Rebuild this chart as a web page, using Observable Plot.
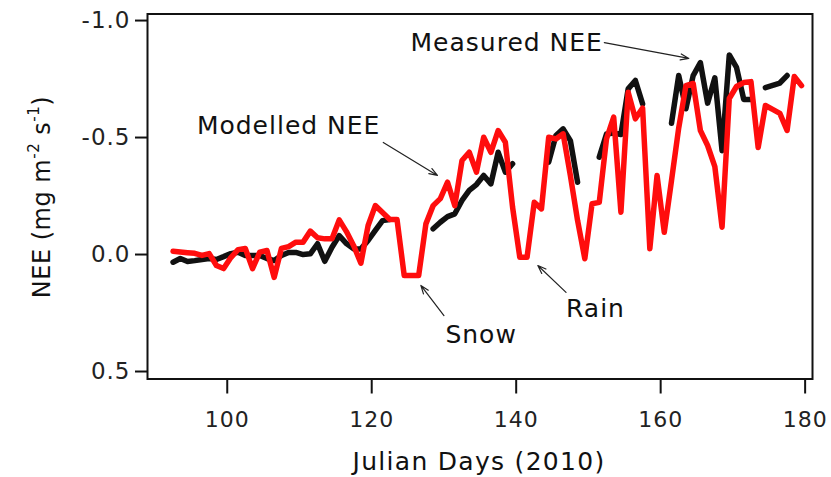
<!DOCTYPE html>
<html><head><meta charset="utf-8">
<script src="https://cdn.jsdelivr.net/npm/d3@7"></script>
<script src="https://cdn.jsdelivr.net/npm/@observablehq/plot@0.6"></script>
<style>
body{margin:0;background:#fff;}
svg{display:block;}
</style>
</head><body><div id="chart"></div>
<script>
// Julian day (daily values, plotted at noon)
const days = [92,93,94,95,96,97,98,99,100,101,102,103,104,105,106,107,108,109,110,111,112,113,114,115,116,117,118,119,120,121,122,123,124,125,126,127,128,129,130,131,132,133,134,135,136,137,138,139,140,141,142,143,144,145,146,147,148,149,150,151,152,153,154,155,156,157,158,159,160,161,162,163,164,165,166,167,168,169,170,171,172,173,174,175,176,177,178,179];
// Modelled NEE (mg m-2 s-1)
const modelled = [-0.014,-0.011,-0.008,-0.005,0.004,-0.004,0.047,0.060,0.013,-0.021,-0.026,0.060,-0.010,-0.017,0.098,-0.026,-0.034,-0.053,-0.053,-0.100,-0.072,-0.067,-0.067,-0.148,-0.098,-0.038,0.037,-0.124,-0.209,-0.180,-0.150,-0.150,0.090,0.090,0.090,-0.131,-0.209,-0.239,-0.309,-0.209,-0.402,-0.437,-0.352,-0.501,-0.437,-0.530,-0.480,-0.202,0.012,0.012,-0.223,-0.195,-0.501,-0.494,-0.516,-0.338,-0.145,0.018,-0.217,-0.223,-0.494,-0.587,-0.181,-0.694,-0.580,-0.626,-0.025,-0.338,-0.095,-0.316,-0.541,-0.722,-0.731,-0.530,-0.466,-0.376,-0.117,-0.667,-0.718,-0.735,-0.739,-0.457,-0.637,-0.620,-0.603,-0.530,-0.761,-0.722];
// Measured NEE (null = missing)
const measured = [0.033,0.017,0.030,0.026,0.021,0.017,0.021,0.009,-0.004,-0.010,0.004,0.004,0.004,0.017,0.026,0.004,-0.009,-0.009,0.000,-0.003,-0.046,0.029,-0.031,-0.081,-0.047,-0.024,-0.024,-0.060,-0.103,-0.145,-0.150,null,null,null,null,null,-0.110,-0.138,-0.162,-0.174,-0.231,-0.274,-0.299,-0.338,-0.302,-0.437,-0.352,-0.388,null,null,null,null,-0.395,-0.509,-0.537,-0.487,-0.309,null,null,-0.416,-0.515,-0.519,-0.513,-0.708,-0.744,-0.644,null,null,null,-0.561,-0.765,-0.623,-0.765,-0.820,-0.647,-0.755,-0.444,-0.853,-0.800,-0.663,-0.663,null,-0.713,-0.723,-0.733,-0.765,null,null];

const xTicks = [100,120,140,160,180];
const yTicks = [-1.0,-0.5,0.0,0.5];
const xLabel = "Julian Days (2010)";
const yLabelParts = ["NEE (mg m", "-2", " s", "-1", ")"];

// annotations
const noteText = ["Modelled NEE","Measured NEE","Snow","Rain"];
const noteX = [121.2,152.0,130.2,146.9];
const noteY = [-0.551,-0.902,0.346,0.231];
const noteAnchor = ["end","end","start","start"];
const arrowX1 = [121.6,152.2,130.0,146.9];
const arrowY1 = [-0.479,-0.906,0.261,0.162];
const arrowX2 = [129.1,163.9,126.8,143.0];
const arrowY2 = [-0.338,-0.838,0.132,0.047];

const table = days.map((d,i)=>({day:d+0.5, model:modelled[i], meas:measured[i]}));
const notes = noteText.map((t,i)=>({text:t,x:noteX[i],y:noteY[i],anchor:noteAnchor[i]}));
const arrows = arrowX1.map((_,i)=>({x1:arrowX1[i],y1:arrowY1[i],x2:arrowX2[i],y2:arrowY2[i]}));

const FONT = "DejaVu Sans";
const chart = Plot.plot({
  width: 831,
  height: 477,
  marginLeft: 147,
  marginRight: 19,
  marginTop: 13.5,
  marginBottom: 98.5,
  style: {fontFamily: FONT, background: "#fff", color: "#222"},
  x: {domain: [88.96, 181.02]},
  y: {domain: [0.532, -1.028]},
  marks: [
    Plot.axisX({ticks: xTicks, tickSize: 15, tickPadding: 17, tickFormat: d => String(d), fontSize: 22, label: null, stroke: "#111", strokeWidth: 2}),
    Plot.axisY({ticks: yTicks, tickSize: 12, tickPadding: 5, tickFormat: d => d.toFixed(1), fontSize: 23, label: null, stroke: "#111", strokeWidth: 2}),
    Plot.line(table, {x: "day", y: "meas", stroke: "#111", strokeWidth: 5.5}),
    Plot.line(table, {x: "day", y: "model", stroke: "#ff0d0d", strokeWidth: 5.5}),
    Plot.arrow(arrows, {x1: "x1", y1: "y1", x2: "x2", y2: "y2", stroke: "#222", strokeWidth: 1.2, headLength: 11, headAngle: 40}),
    Plot.text(notes.filter(n=>n.anchor==="end"), {x: "x", y: "y", text: "text", textAnchor: "end", fontSize: 25, fill: "#111"}),
    Plot.text(notes.filter(n=>n.anchor==="start"), {x: "x", y: "y", text: "text", textAnchor: "start", fontSize: 25, fill: "#111"}),
    Plot.frame({stroke: "#111", strokeWidth: 2})
  ]
});
document.getElementById("chart").append(chart);

const svg = d3.select(chart);
svg.selectAll("text").attr("letter-spacing", "1px");
svg.append("text")
  .attr("x", 479).attr("y", 470)
  .attr("text-anchor", "middle")
  .attr("font-family", FONT).attr("font-size", 25).attr("letter-spacing", "1.3px")
  .attr("fill", "#111")
  .text(xLabel);
const yl = svg.append("text")
  .attr("transform", "translate(50,197) rotate(-90)")
  .attr("text-anchor", "middle")
  .attr("font-family", FONT).attr("font-size", 24).attr("letter-spacing", "0.5px")
  .attr("fill", "#111");
yl.append("tspan").text(yLabelParts[0]);
yl.append("tspan").attr("font-size", 15).attr("dy", -11).text(yLabelParts[1]);
yl.append("tspan").attr("dy", 11).text(yLabelParts[2]);
yl.append("tspan").attr("font-size", 15).attr("dy", -11).text(yLabelParts[3]);
yl.append("tspan").attr("dy", 11).text(yLabelParts[4]);
</script>
</body></html>
